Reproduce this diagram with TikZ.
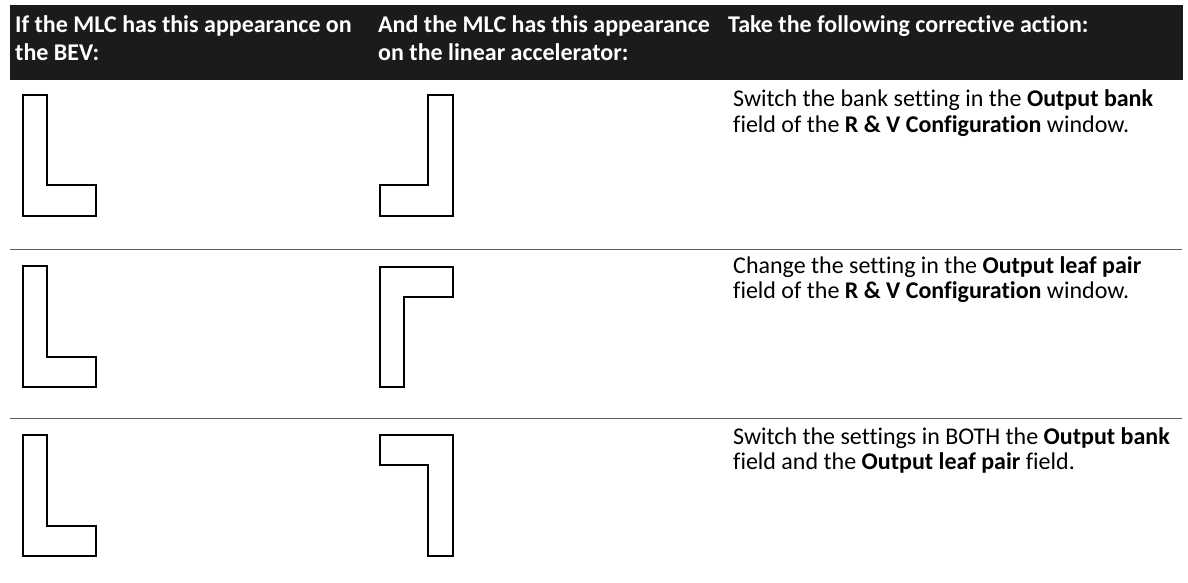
\documentclass[tikz,border=0pt]{standalone}
\usepackage{fontspec}
\setmainfont[Ligatures=NoCommon]{Carlito}
\definecolor{hdgray}{HTML}{1B1B1B}
\definecolor{rulegray}{HTML}{595959}
\begin{document}
\begin{tikzpicture}[x=1pt,y=-1pt,
  hdtext/.style={anchor=base west, inner sep=0pt, align=left, text=white,
    font=\fontsize{24}{28.5}\selectfont\bfseries},
  acttext/.style={anchor=base west, inner sep=0pt, align=left,
    font=\fontsize{24}{25}\selectfont},
  leaf/.style={line width=1.6pt, line join=miter},
  rowrule/.style={rulegray, line width=1pt}]
\useasboundingbox (0,0) rectangle (1188,583);
% header band
\fill[hdgray] (10,5) rectangle (1183,80);
\node[hdtext] (hdbev) at (15,61) {If the MLC has this appearance on\\the BEV:};
\node[hdtext] (hdlinac) at (378,61) {And the MLC has this appearance\\on the linear accelerator:};
\node[hdtext] (hdaction) at (728,32.5) {Take the following corrective action:};
% row separators
\coordinate (sepAl) at (10,249);
\coordinate (sepAr) at (1182,249);
\coordinate (sepBl) at (10,418);
\coordinate (sepBr) at (1182,418);
\draw[rowrule] (sepAl) -- (sepAr);
\draw[rowrule] (sepBl) -- (sepBr);
% row 1
\draw[leaf] (23,95) -- (47,95) -- (47,185) -- (96,185) -- (96,216) -- (23,216) -- cycle;
\draw[leaf] (453,95) -- (428,95) -- (428,185) -- (380,185) -- (380,216) -- (453,216) -- cycle;
\node[acttext] (actbank) at (733,132) {Switch the bank setting in the \textbf{Output bank}\\field of the \textbf{R \& V Configuration} window.};
% row 2
\draw[leaf] (23,266) -- (47,266) -- (47,357) -- (96,357) -- (96,387) -- (23,387) -- cycle;
\draw[leaf, line width=1.2pt] (380,267) -- (453,267) -- (453,297) -- (404,297) -- (404,387) -- (380,387) -- cycle;
\node[acttext] (actpair) at (733,298) {Change the setting in the \textbf{Output leaf pair}\\field of the \textbf{R \& V Configuration} window.};
% row 3
\draw[leaf] (23,435) -- (47,435) -- (47,526) -- (96,526) -- (96,556) -- (23,556) -- cycle;
\draw[leaf] (380,435) -- (453,435) -- (453,556) -- (428,556) -- (428,465) -- (380,465) -- cycle;
\node[acttext] (actboth) at (733,469) {Switch the settings in BOTH the \textbf{Output bank}\\field and the \textbf{Output leaf pair} field.};
\end{tikzpicture}
\end{document}
